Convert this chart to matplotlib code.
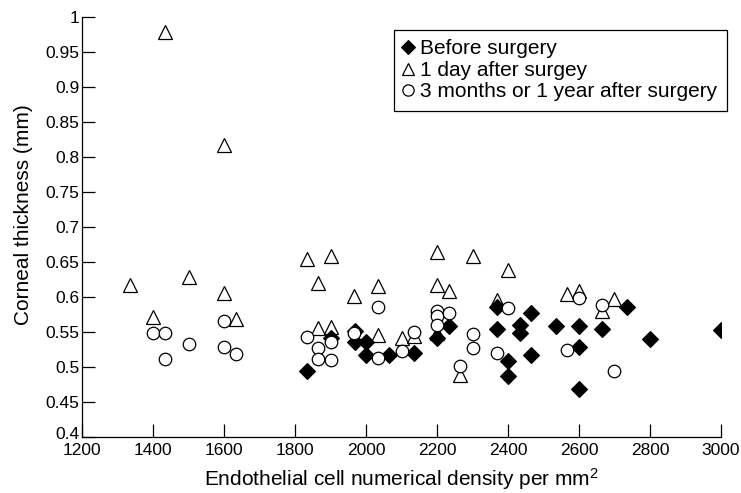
import matplotlib
matplotlib.use("Agg")
import matplotlib.pyplot as plt
from matplotlib.transforms import ScaledTranslation

plt.rcParams["font.family"] = ["Liberation Sans", "DejaVu Sans"]
plt.rcParams["mathtext.fontset"] = "custom"
plt.rcParams["mathtext.rm"] = "Liberation Sans"
plt.rcParams["mathtext.it"] = "Liberation Sans"

# before surgery (filled diamonds)
before_x = [1835, 1900, 1970, 1970, 2000, 2000, 2065, 2135, 2200, 2235,
            2370, 2370, 2400, 2400, 2435, 2435, 2465, 2465, 2535, 2600,
            2600, 2600, 2665, 2735, 2800, 3000]
before_y = [0.494, 0.541, 0.551, 0.536, 0.536, 0.517, 0.517, 0.520, 0.542, 0.559,
            0.586, 0.554, 0.508, 0.487, 0.560, 0.548, 0.577, 0.517, 0.558, 0.558,
            0.528, 0.469, 0.554, 0.586, 0.540, 0.553]

# 1 day after surgery (open triangles)
day1_x = [1335, 1400, 1435, 1500, 1600, 1600, 1635, 1835, 1865, 1865,
          1900, 1900, 1965, 2035, 2035, 2100, 2135, 2200, 2200, 2200,
          2235, 2265, 2300, 2370, 2400, 2565, 2600, 2665, 2700]
day1_y = [0.617, 0.572, 0.979, 0.629, 0.817, 0.605, 0.569, 0.654, 0.620, 0.555,
          0.658, 0.557, 0.602, 0.616, 0.546, 0.541, 0.544, 0.664, 0.617, 0.548,
          0.608, 0.489, 0.658, 0.595, 0.639, 0.604, 0.608, 0.580, 0.597]

# 3 months or 1 year after surgery (open circles)
late_x = [1400, 1435, 1435, 1500, 1600, 1600, 1635, 1835, 1865, 1865,
          1900, 1900, 1965, 2035, 2035, 2100, 2135, 2200, 2200, 2200,
          2235, 2265, 2300, 2300, 2370, 2400, 2565, 2600, 2665, 2700]
late_y = [0.548, 0.548, 0.512, 0.533, 0.565, 0.529, 0.518, 0.543, 0.527, 0.511,
          0.536, 0.510, 0.548, 0.585, 0.513, 0.523, 0.550, 0.580, 0.573, 0.560,
          0.577, 0.501, 0.547, 0.527, 0.520, 0.584, 0.524, 0.598, 0.589, 0.494]

x_ticks = [1200, 1400, 1600, 1800, 2000, 2200, 2400, 2600, 2800, 3000]
y_ticks = [0.4, 0.45, 0.5, 0.55, 0.6, 0.65, 0.7, 0.75, 0.8, 0.85, 0.9, 0.95, 1.0]
y_labels = ["0.4", "0.45", "0.5", "0.55", "0.6", "0.65", "0.7", "0.75",
            "0.8", "0.85", "0.9", "0.95", "1"]

fig = plt.figure(figsize=(7.41, 4.93), dpi=100)
ax = fig.add_axes([0.1107, 0.1136, 0.8623, 0.852])

ax.plot(before_x, before_y, linestyle="none", marker="D", markersize=8,
        markerfacecolor="black", markeredgecolor="black", markeredgewidth=0.8,
        label="Before surgery", zorder=3)
ax.plot(day1_x, day1_y, linestyle="none", marker="^", markersize=10,
        markerfacecolor="none", markeredgecolor="black", markeredgewidth=0.9,
        label="1 day after surgey", zorder=4)
ax.plot(late_x, late_y, linestyle="none", marker="o", markersize=9,
        markerfacecolor="white", markeredgecolor="black", markeredgewidth=0.9,
        label="3 months or 1 year after surgery", zorder=5)

ax.set_xlim(1200, 3000)
ax.set_ylim(0.4, 1.0)
ax.set_xticks(x_ticks)
ax.set_xticklabels([str(t) for t in x_ticks])
ax.set_yticks(y_ticks)
ax.set_yticklabels(y_labels)

for side in ["top", "right"]:
    ax.spines[side].set_visible(False)
for side in ["left", "bottom"]:
    ax.spines[side].set_linewidth(0.9)
ax.tick_params(direction="in", length=9.5, width=0.9, labelsize=12.5, pad=2)
ax.tick_params(axis="x", pad=4)

# nudge the bottom y label up a little so it clears "1200"
lab0 = ax.get_yticklabels()[0]
lab0.set_transform(lab0.get_transform() + ScaledTranslation(0, 3 / 72, fig.dpi_scale_trans))

ax.set_xlabel("Endothelial cell numerical density per mm$^2$", fontsize=15)
ax.set_ylabel("Corneal thickness (mm)", fontsize=15)
ax.xaxis.set_label_coords(0.5, -0.07)
ax.yaxis.set_label_coords(-0.077, 0.53)

leg = ax.legend(loc="upper right", bbox_to_anchor=(1.0094, 0.969), fontsize=15,
                frameon=True, fancybox=False, framealpha=1, edgecolor="black",
                handlelength=0.4, handletextpad=0.4, borderpad=0.45,
                labelspacing=0.12, markerscale=0.9, borderaxespad=0)
leg.get_frame().set_linewidth(0.9)

fig.savefig("out.png", dpi=100)
